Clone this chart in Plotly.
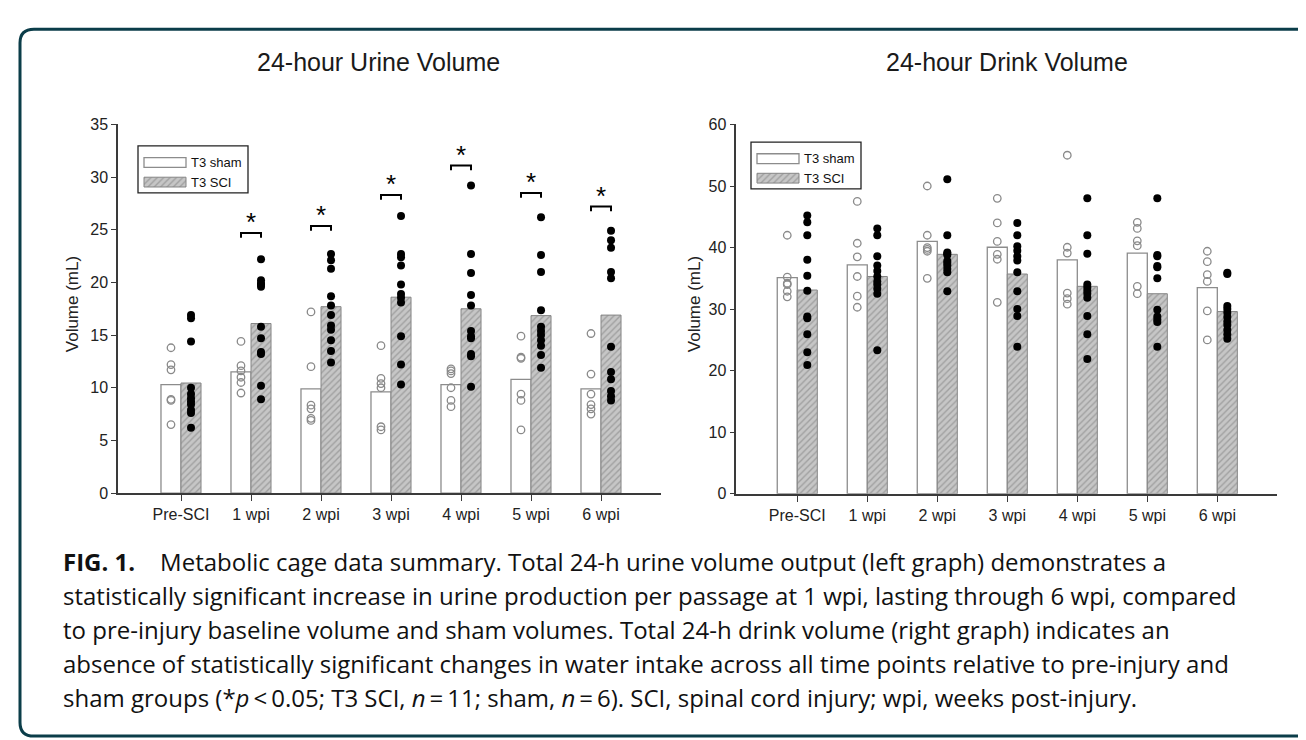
import plotly.graph_objects as go

# ---------------- data ----------------
categories = ["Pre-SCI", "1 wpi", "2 wpi", "3 wpi", "4 wpi", "5 wpi", "6 wpi"]
urine_ticks = [0, 5, 10, 15, 20, 25, 30, 35]
drink_ticks = [0, 10, 20, 30, 40, 50, 60]

urine_sham_mean = [10.3, 11.5, 9.9, 9.6, 10.3, 10.8, 9.9]
urine_sci_mean = [10.45, 16.1, 17.7, 18.6, 17.5, 16.85, 16.9]
urine_sham_points = [
    [13.8, 12.2, 11.7, 8.9, 8.8, 6.5],
    [14.4, 12.1, 11.6, 11.0, 10.5, 9.5],
    [17.2, 12.0, 8.35, 8.0, 7.1, 6.9],
    [14.0, 10.9, 10.4, 10.0, 6.3, 6.0],
    [11.8, 11.6, 11.35, 10.0, 8.8, 8.2],
    [14.9, 12.9, 12.8, 9.4, 8.8, 6.0],
    [15.15, 11.3, 9.4, 8.4, 8.0, 7.5],
]
urine_sci_points = [
    [16.9, 16.6, 14.4, 10.0, 9.4, 9.0, 8.7, 8.4, 7.9, 7.6, 6.2],
    [22.2, 20.2, 19.9, 19.8, 19.6, 15.8, 14.7, 13.4, 13.2, 10.2, 8.9],
    [22.7, 22.1, 21.3, 18.7, 17.8, 16.9, 15.9, 15.5, 14.5, 13.5, 12.4],
    [26.3, 22.7, 22.4, 21.6, 19.8, 18.9, 18.55, 18.1, 14.9, 12.2, 10.3],
    [29.2, 22.7, 20.9, 18.8, 17.8, 15.4, 14.9, 14.7, 13.2, 13.0, 10.1],
    [26.2, 22.6, 21.0, 17.35, 15.8, 15.4, 15.0, 14.5, 14.0, 13.1, 11.9],
    [24.9, 24.0, 23.3, 21.0, 20.4, 13.9, 11.5, 10.8, 9.7, 9.2, 8.8],
]
urine_sig_y = [None, 24.7, 25.35, 28.3, 31.1, 28.5, 27.2]

drink_sham_mean = [35.1, 37.2, 41.0, 40.05, 38.0, 39.1, 33.5]
drink_sci_mean = [33.1, 35.3, 38.9, 35.7, 33.7, 32.5, 29.6]
drink_sham_points = [
    [42.0, 35.2, 34.2, 34.0, 32.9, 32.0],
    [47.5, 40.7, 38.5, 35.3, 32.1, 30.3],
    [50.0, 42.0, 40.0, 39.7, 39.4, 35.0],
    [48.0, 44.0, 41.0, 38.9, 38.1, 31.1],
    [55.0, 40.05, 39.1, 32.6, 31.7, 30.8],
    [44.1, 43.1, 41.1, 40.3, 33.7, 32.5],
    [39.4, 37.7, 35.6, 34.5, 29.7, 25.0],
]
drink_sci_points = [
    [45.2, 44.1, 42.0, 38.0, 35.4, 33.0, 28.8, 28.5, 25.9, 23.0, 20.9],
    [43.1, 42.0, 38.6, 37.1, 36.2, 35.3, 34.5, 34.0, 33.3, 32.5, 23.3],
    [51.1, 42.0, 39.2, 39.0, 38.8, 37.8, 37.5, 37.1, 36.5, 36.0, 32.9],
    [44.0, 42.0, 40.2, 39.5, 38.6, 37.9, 36.0, 32.9, 30.0, 28.9, 23.9],
    [48.0, 42.0, 39.0, 34.0, 33.5, 33.0, 32.5, 31.85, 28.9, 25.9, 21.9],
    [48.0, 38.8, 38.6, 37.0, 36.8, 35.0, 29.9, 28.8, 28.3, 27.9, 23.9],
    [35.9, 35.7, 30.5, 30.0, 29.4, 28.7, 28.0, 27.4, 26.6, 25.9, 25.2],
]

legend_labels = ["T3 sham", "T3 SCI"]
titles = ["24-hour Urine Volume", "24-hour Drink Volume"]
y_title = "Volume (mL)"
caption_lines = [
    "<b>FIG. 1.</b>\u00a0\u00a0\u00a0 Metabolic cage data summary. Total 24-h urine volume output (left graph) demonstrates a",
    "statistically significant increase in urine production per passage at 1 wpi, lasting through 6 wpi, compared",
    "to pre-injury baseline volume and sham volumes. Total 24-h drink volume (right graph) indicates an",
    "absence of statistically significant changes in water intake across all time points relative to pre-injury and",
    "sham groups (*<i>p</i>\u2009&lt;\u20090.05; T3 SCI, <i>n</i>\u2009=\u200911; sham, <i>n</i>\u2009=\u20096). SCI, spinal cord injury; wpi, weeks post-injury.",
]

# ---------------- layout helpers ----------------
W, H = 1306, 740
def PX(v):
    return v / W
def PY(v):
    return 1 - v / H

FONT = "Liberation Sans, Arial, sans-serif"
CAP_FONT = "Open Sans, Noto Sans, sans-serif"
AXIS_COLOR = "#3a3a3a"
BAR_W = 0.286
OFF = BAR_W / 2

SHAM_BAR = dict(color="white", line=dict(color="#8c8c8c", width=1.3))
SCI_BAR = dict(color="#c2c2c2", line=dict(color="#858585", width=1.0),
               pattern=dict(shape="/", fgcolor="#777777", bgcolor="#c6c6c6", size=4.5, solidity=0.3))

fig = go.Figure()

panels = [
    dict(xa="x", ya="y", sham=urine_sham_mean, sci=urine_sci_mean,
         shp=urine_sham_points, scp=urine_sci_points, sig=urine_sig_y),
    dict(xa="x2", ya="y2", sham=drink_sham_mean, sci=drink_sci_mean,
         shp=drink_sham_points, scp=drink_sci_points, sig=None),
]

idx = list(range(len(categories)))
for p in panels:
    fig.add_trace(go.Bar(x=idx, y=p["sham"], width=BAR_W, offset=-BAR_W, marker=SHAM_BAR,
                         xaxis=p["xa"], yaxis=p["ya"], showlegend=False, hoverinfo="skip"))
    fig.add_trace(go.Bar(x=idx, y=p["sci"], width=BAR_W, offset=0, marker=SCI_BAR,
                         xaxis=p["xa"], yaxis=p["ya"], showlegend=False, hoverinfo="skip"))
    sx, sy, cx, cy = [], [], [], []
    for i in idx:
        sx += [i - OFF] * len(p["shp"][i]); sy += p["shp"][i]
        cx += [i + OFF] * len(p["scp"][i]); cy += p["scp"][i]
    fig.add_trace(go.Scatter(x=sx, y=sy, mode="markers", xaxis=p["xa"], yaxis=p["ya"],
                             marker=dict(symbol="circle-open", size=7.5, color="#8a8a8a",
                                         line=dict(width=1.3)),
                             showlegend=False, hoverinfo="skip"))
    fig.add_trace(go.Scatter(x=cx, y=cy, mode="markers", xaxis=p["xa"], yaxis=p["ya"],
                             marker=dict(symbol="circle", size=8, color="black"),
                             showlegend=False, hoverinfo="skip"))
    if p["sig"]:
        for i, b in enumerate(p["sig"]):
            if b is None:
                continue
            fig.add_trace(go.Scatter(x=[i - OFF, i - OFF, i + OFF, i + OFF],
                                     y=[b - 0.45, b, b, b - 0.45], mode="lines",
                                     line=dict(color="black", width=2),
                                     xaxis=p["xa"], yaxis=p["ya"],
                                     showlegend=False, hoverinfo="skip"))
            fig.add_annotation(x=i, y=b, xref=p["xa"], yref=p["ya"], text="*",
                               showarrow=False, yanchor="bottom", yshift=-6,
                               font=dict(family=FONT, size=26, color="black"))

# custom legends (wide swatches like the original)
for lx, ly in [("x3", "y3"), ("x4", "y4")]:
    fig.add_trace(go.Bar(y=[17], x=[42], base=[6], width=[10], orientation="h",
                         marker=SHAM_BAR, xaxis=lx, yaxis=ly, showlegend=False, hoverinfo="skip"))
    fig.add_trace(go.Bar(y=[37], x=[42], base=[6], width=[10], orientation="h",
                         marker=SCI_BAR, xaxis=lx, yaxis=ly, showlegend=False, hoverinfo="skip"))
    for yy, lab in zip([17, 37], legend_labels):
        fig.add_annotation(x=51, y=yy, xref=lx, yref=ly, text=lab, showarrow=False,
                           xanchor="left", yanchor="middle",
                           font=dict(family=FONT, size=13, color="#111"))
    fig.add_shape(type="rect", xref=f"{lx} domain", yref=f"{ly} domain",
                  x0=0, x1=1, y0=0, y1=1, line=dict(color="#222", width=1.3))

def data_axis(dom, rng):
    return dict(domain=dom, range=rng, showgrid=False, zeroline=False, showline=True,
                linecolor=AXIS_COLOR, linewidth=1.5, ticks="outside", tickcolor=AXIS_COLOR,
                tickwidth=1.3, tickfont=dict(family=FONT, size=16, color="#222"),
                fixedrange=True)

xa1 = data_axis([PX(110), PX(653)], [-0.9, 6.857])
xa1.update(tickvals=idx, ticktext=categories, ticklen=6, anchor="y")
ya1 = data_axis([PY(488.3), PY(111)], [0, 35])
ya1.update(tickvals=urine_ticks, ticklen=5, anchor="x")
xa2 = data_axis([PX(728.3), PX(1269.3)], [-0.871, 6.857])
xa2.update(tickvals=idx, ticktext=categories, ticklen=6, anchor="y2")
ya2 = data_axis([PY(489), PY(111)], [0, 60])
ya2.update(tickvals=drink_ticks, ticklen=5, anchor="x2")

hidden = dict(visible=False, fixedrange=True, showgrid=False, zeroline=False)

fig.update_layout(
    width=W, height=H, margin=dict(l=0, r=0, t=0, b=0),
    paper_bgcolor="white", plot_bgcolor="rgba(0,0,0,0)",
    barmode="overlay", showlegend=False,
    xaxis=xa1, yaxis=ya1, xaxis2=xa2, yaxis2=ya2,
    xaxis3=dict(hidden, domain=[PX(130), PX(240)], range=[0, 110], anchor="y3"),
    yaxis3=dict(hidden, domain=[PY(181), PY(133)], range=[48, 0], anchor="x3"),
    xaxis4=dict(hidden, domain=[PX(743), PX(853)], range=[0, 110], anchor="y4"),
    yaxis4=dict(hidden, domain=[PY(177), PY(129)], range=[48, 0], anchor="x4"),
)

# titles
for cx_, t in zip([371, 999], titles):
    fig.add_annotation(x=PX(cx_), y=PY(47), xref="paper", yref="paper", text=t,
                       showarrow=False, xanchor="center", yanchor="middle",
                       font=dict(family=FONT, size=25, color="#1a1a1a"))
# y-axis titles
for cx_ in [64, 686]:
    fig.add_annotation(x=PX(cx_), y=PY(295), xref="paper", yref="paper", text=y_title,
                       showarrow=False, textangle=-90, xanchor="center", yanchor="middle",
                       font=dict(family=FONT, size=17, color="#222"))
# caption
for k, line in enumerate(caption_lines):
    fig.add_annotation(x=PX(53), y=PY(558 + 35 * k), xref="paper", yref="paper", text=line,
                       showarrow=False, xanchor="left", yanchor="middle", align="left",
                       font=dict(family=CAP_FONT, size=24, color="#111"))

# rounded frame
L, T, R, B, r = 12, 13.5, 1318, 737, 14
path = (f"M {PX(L)},{PY(T + r)} Q {PX(L)},{PY(T)} {PX(L + r)},{PY(T)} "
        f"L {PX(R - r)},{PY(T)} Q {PX(R)},{PY(T)} {PX(R)},{PY(T + r)} "
        f"L {PX(R)},{PY(B - r)} Q {PX(R)},{PY(B)} {PX(R - r)},{PY(B)} "
        f"L {PX(L + r)},{PY(B)} Q {PX(L)},{PY(B)} {PX(L)},{PY(B - r)} Z")
fig.add_shape(type="path", path=path, xref="paper", yref="paper",
              line=dict(color="#0b3d49", width=3), layer="above")

fig.write_html("out.html")
